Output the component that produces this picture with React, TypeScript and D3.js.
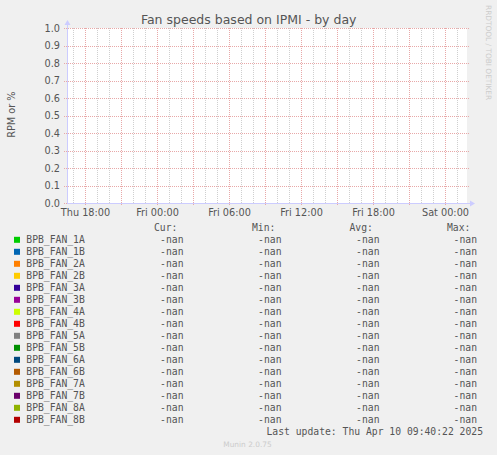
import React from 'react'
import * as d3 from 'd3'

const title = 'Fan speeds based on IPMI - by day'
const yLabel = 'RPM or %'
const yTicks = [0, 0.1, 0.2, 0.3, 0.4, 0.5, 0.6, 0.7, 0.8, 0.9, 1.0]
const timeStart = new Date(Date.UTC(2025, 3, 3, 16, 28, 30))
const timeEnd = new Date(Date.UTC(2025, 3, 5, 1, 48, 30))

const fanNames = [
  'BPB_FAN_1A', 'BPB_FAN_1B', 'BPB_FAN_2A', 'BPB_FAN_2B', 'BPB_FAN_3A', 'BPB_FAN_3B',
  'BPB_FAN_4A', 'BPB_FAN_4B', 'BPB_FAN_5A', 'BPB_FAN_5B', 'BPB_FAN_6A', 'BPB_FAN_6B',
  'BPB_FAN_7A', 'BPB_FAN_7B', 'BPB_FAN_8A', 'BPB_FAN_8B',
]
const fanColors = [
  '#00cc00', '#0066b3', '#ff8000', '#ffcc00', '#330099', '#990099',
  '#ccff00', '#ff0000', '#808080', '#008f00', '#00487d', '#b35a00',
  '#b38f00', '#6b006b', '#8fb300', '#b30000',
]
// no samples in the period: every stat is NaN
const curVals = [NaN, NaN, NaN, NaN, NaN, NaN, NaN, NaN, NaN, NaN, NaN, NaN, NaN, NaN, NaN, NaN]
const minVals = [NaN, NaN, NaN, NaN, NaN, NaN, NaN, NaN, NaN, NaN, NaN, NaN, NaN, NaN, NaN, NaN]
const avgVals = [NaN, NaN, NaN, NaN, NaN, NaN, NaN, NaN, NaN, NaN, NaN, NaN, NaN, NaN, NaN, NaN]
const maxVals = [NaN, NaN, NaN, NaN, NaN, NaN, NaN, NaN, NaN, NaN, NaN, NaN, NaN, NaN, NaN, NaN]
const lastUpdate = 'Last update: Thu Apr 10 09:40:22 2025'
const version = 'Munin 2.0.75'

const W = 497, H = 455
const plot = { left: 67, right: 467, top: 28, bottom: 203 }
const sans = 'DejaVu Sans, sans-serif'
const mono = 'DejaVu Sans Mono, monospace'
const fontColor = '#555'

const fmt = (v: number) => isNaN(v) ? '-nan' : d3.format('.2f')(v)

export default function App() {
  const x = d3.scaleUtc().domain([timeStart, timeEnd]).range([plot.left, plot.right])
  const y = d3.scaleLinear().domain([0, 1]).range([plot.bottom, plot.top])
  const px = (t: Date) => Math.round(x(t)) + 0.5
  const py = (v: number) => Math.round(y(v)) + 0.5

  const major = x.ticks(d3.utcHour.every(3)!)
  const minor = x.ticks(d3.utcHour.every(1)!).filter(t => t.getUTCHours() % 3 !== 0)
  const labels = x.ticks(d3.utcHour.every(6)!)
  const tfmt = d3.utcFormat('%a %H:%M')

  const cols = [
    { head: 'Cur:', headX: 154, endX: 183.5, vals: curVals },
    { head: 'Min:', headX: 252, endX: 281.5, vals: minVals },
    { head: 'Avg:', headX: 349.5, endX: 379.5, vals: avgVals },
    { head: 'Max:', headX: 447, endX: 477, vals: maxVals },
  ]
  const rowY = (i: number) => 243.3 + i * 12

  return (
    <svg width={W} height={H} style={{ display: 'block', position: 'absolute', left: 0, top: 0 }}>
      <rect width={W} height={H} fill="#f0f0f0" />
      <rect x={plot.left} y={plot.top} width={plot.right - plot.left} height={plot.bottom - plot.top} fill="#fff" />

      {minor.map((t, i) => (
        <line key={'mn' + i} x1={px(t)} x2={px(t)} y1={plot.top} y2={plot.bottom}
          stroke="#cfcfcf" strokeWidth={1} strokeDasharray="1,1" />
      ))}
      {major.map((t, i) => (
        <line key={'mj' + i} x1={px(t)} x2={px(t)} y1={plot.top} y2={plot.bottom + 3}
          stroke="#e8a8a8" strokeWidth={1} strokeDasharray="1,1" />
      ))}
      {yTicks.map((v, i) => (
        <line key={'hy' + i} x1={plot.left - 3} x2={plot.right + 2} y1={py(v)} y2={py(v)}
          stroke="#e8a8a8" strokeWidth={1} strokeDasharray="1,1" />
      ))}

      {/* axes */}
      <line x1={plot.left + 0.5} x2={plot.left + 0.5} y1={plot.bottom} y2={plot.top - 4} stroke="#ccccff" />
      <path d={`M${plot.left - 2.5},${plot.top - 3} L${plot.left + 3.5},${plot.top - 3} L${plot.left + 0.5},${plot.top - 8} Z`} fill="#ccccff" />
      <line x1={plot.left} x2={plot.right + 5} y1={plot.bottom + 0.5} y2={plot.bottom + 0.5} stroke="#ccccff" />
      <path d={`M${plot.right + 3},${plot.bottom - 2.5} L${plot.right + 3},${plot.bottom + 3.5} L${plot.right + 8},${plot.bottom + 0.5} Z`} fill="#ccccff" />

      {yTicks.map((v, i) => (
        <text key={'yt' + i} x={60} y={y(v) + 3.5} textAnchor="end" fontFamily={sans} fontSize={9.72} fill={fontColor}>
          {d3.format('.1f')(v)}
        </text>
      ))}
      {labels.map((t, i) => (
        <text key={'xt' + i} x={px(t)} y={215.8} textAnchor="middle" fontFamily={sans} fontSize={9.72} fill={fontColor}>
          {tfmt(t)}
        </text>
      ))}

      <text x={248.7} y={23.5} textAnchor="middle" fontFamily={sans} fontSize={12.5} fill={fontColor}>{title}</text>
      <text transform="translate(14.5,114.7) rotate(-90)" textAnchor="middle" fontFamily={sans} fontSize={9.72} fill={fontColor}>{yLabel}</text>
      <text transform="translate(485.5,5) rotate(90)" textAnchor="start" fontFamily={sans} fontSize={7.4} fill="#cccccc">RRDTOOL / TOBI OETIKER</text>

      {/* legend */}
      {cols.map(c => (
        <text key={c.head} x={c.headX} y={231} fontFamily={mono} fontSize={9.72} fill={fontColor}>{c.head}</text>
      ))}
      {fanNames.map((n, i) => (
        <g key={n}>
          <rect x={14} y={rowY(i) - 6.5} width={6} height={6} fill={fanColors[i]} />
          <text x={26.3} y={rowY(i)} fontFamily={mono} fontSize={9.72} fill={fontColor}>{n}</text>
          {cols.map(c => (
            <text key={c.head} x={c.endX} y={rowY(i)} textAnchor="end" fontFamily={mono} fontSize={9.72} fill={fontColor}>
              {fmt(c.vals[i])}
            </text>
          ))}
        </g>
      ))}
      <text x={483} y={435.3} textAnchor="end" fontFamily={mono} fontSize={9.72} fill={fontColor}>{lastUpdate}</text>
      <text x={223.3} y={446.5} fontFamily={sans} fontSize={7.4} fill="#cccccc">{version}</text>
    </svg>
  )
}
